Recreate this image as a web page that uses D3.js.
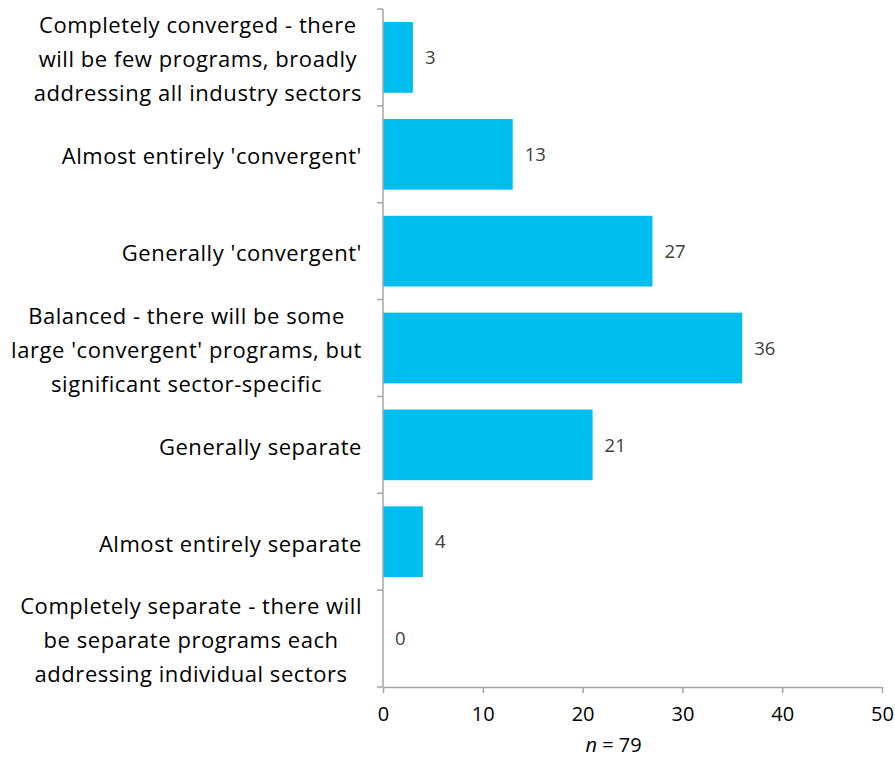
<!DOCTYPE html>
<html>
<head>
<meta charset="utf-8">
<script src="https://cdn.jsdelivr.net/npm/d3@7"></script>
<style>
  body { margin: 0; background: #fff; }
  svg { display: block; }
  text { font-family: "Open Sans", "Noto Sans", sans-serif; }
</style>
</head>
<body>
<svg id="chart" width="895" height="763"></svg>
<script>
// Survey responses: expected structure of future programs
const categories = [
  ["Completely converged - there", "will be few programs, broadly", "addressing all industry sectors"],
  ["Almost entirely 'convergent'"],
  ["Generally 'convergent'"],
  ["Balanced - there will be some", "large 'convergent' programs, but", "significant sector-specific"],
  ["Generally separate"],
  ["Almost entirely separate"],
  ["Completely separate - there will", "be separate programs each", "addressing individual sectors"]
];
const counts = [3, 13, 27, 36, 21, 4, 0];
const xTicks = [0, 10, 20, 30, 40, 50];
const sampleSize = 79;

const svg = d3.select("#chart");
const margin = { top: 9, left: 383, right: 13, bottom: 76 };
const width = 895, height = 763;

const x = d3.scaleLinear().domain([0, 50]).range([margin.left, width - margin.right]);
const y = d3.scaleBand()
  .domain(d3.range(categories.length))
  .range([margin.top, height - margin.bottom])
  .paddingInner(0.27)
  .paddingOuter(0.135);

const axisColor = "#a6a6a6";

// bars
svg.append("g").selectAll("rect")
  .data(counts)
  .join("rect")
  .attr("x", x(0))
  .attr("y", (d, i) => y(i))
  .attr("width", d => x(d) - x(0))
  .attr("height", y.bandwidth())
  .attr("fill", "#00bfee");

// value labels
svg.append("g").selectAll("text")
  .data(counts)
  .join("text")
  .attr("x", d => x(d) + 12)
  .attr("y", (d, i) => y(i) + y.bandwidth() / 2)
  .attr("dy", "0.36em")
  .attr("font-size", 18.5)
  .attr("fill", "#404040")
  .text(d => d);

// x axis
const xAxis = svg.append("g")
  .attr("transform", `translate(0,${height - margin.bottom})`)
  .call(d3.axisBottom(x).tickValues(xTicks).tickSize(6).tickPadding(14).tickSizeOuter(0));
xAxis.select(".domain").attr("stroke", axisColor).attr("stroke-width", 1.5);
xAxis.selectAll(".tick line").attr("stroke", axisColor).attr("stroke-width", 1.5);
xAxis.selectAll(".tick text").attr("font-size", 20).attr("fill", "#000")
  .style("font-family", "'Open Sans', sans-serif");

// y axis: line plus ticks on band boundaries
const boundaries = d3.range(categories.length + 1).map(i => margin.top + i * (height - margin.bottom - margin.top) / categories.length);
const yAxis = svg.append("g");
yAxis.append("line")
  .attr("x1", x(0)).attr("x2", x(0))
  .attr("y1", margin.top).attr("y2", height - margin.bottom)
  .attr("stroke", axisColor).attr("stroke-width", 1.5);
yAxis.selectAll("line.tick")
  .data(boundaries)
  .join("line")
  .attr("class", "tick")
  .attr("x1", x(0) - 6).attr("x2", x(0))
  .attr("y1", d => d).attr("y2", d => d)
  .attr("stroke", axisColor).attr("stroke-width", 1.5);

// category labels: lines centred within a block that is right-aligned to the axis
const labelRight = 362;
const lineHeight = 34;
const labels = svg.append("g")
  .attr("font-size", 22)
  .attr("letter-spacing", "0.55px")
  .attr("fill", "#000");
categories.forEach((lines, i) => {
  const cy = y(i) + y.bandwidth() / 2 + 2;
  const g = labels.append("g");
  const texts = lines.map((ln, j) =>
    g.append("text")
      .attr("y", cy + (j - (lines.length - 1) / 2) * lineHeight)
      .attr("dy", "0.36em")
      .attr("text-anchor", "middle")
      .text(ln));
  const maxW = d3.max(texts, t => t.node().getComputedTextLength());
  texts.forEach(t => t.attr("x", labelRight - maxW / 2));
});

// sample size note
const note = svg.append("text")
  .attr("x", x(23.1))
  .attr("y", 752)
  .attr("text-anchor", "middle")
  .attr("font-size", 20)
  .attr("fill", "#000");
note.append("tspan").attr("font-style", "italic").text("n");
note.append("tspan").text(` = ${sampleSize}`);
</script>
</body>
</html>
